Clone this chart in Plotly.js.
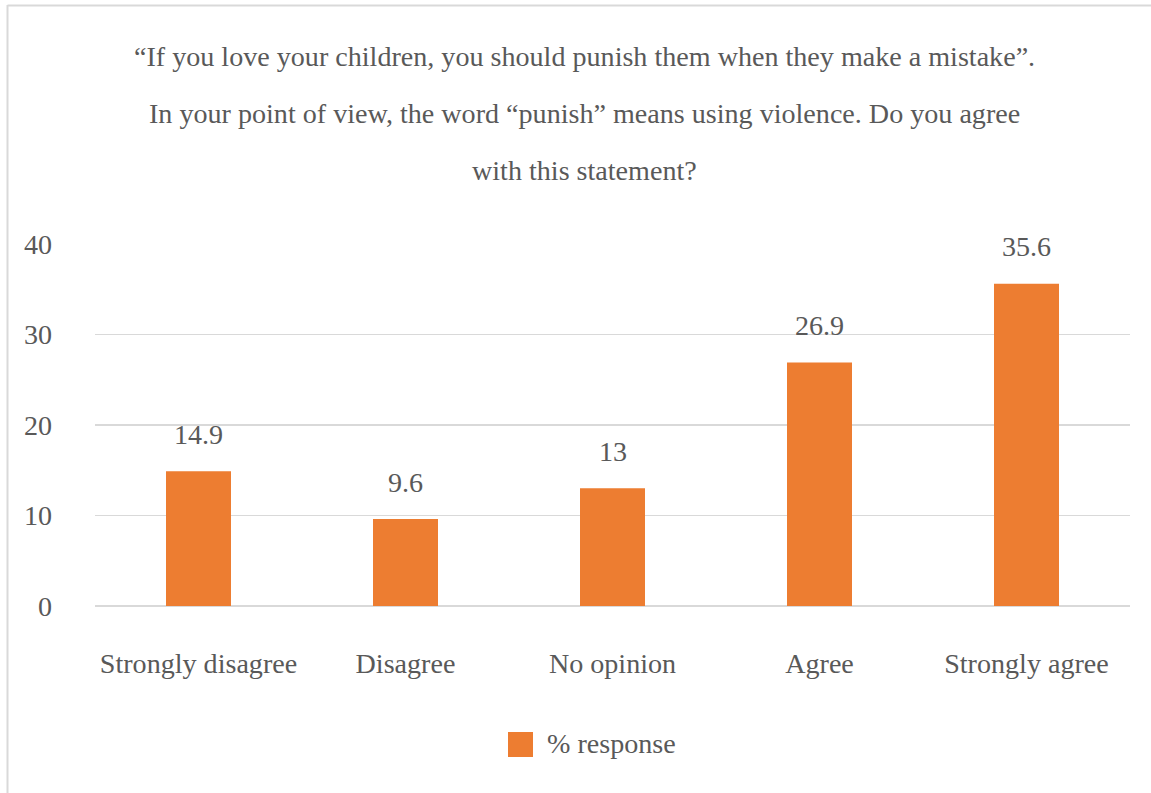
<!DOCTYPE html>
<html>
<head>
<meta charset="utf-8">
<script src="https://cdn.plot.ly/plotly-3.0.1.min.js"></script>
<style>html,body{margin:0;padding:0;background:#fff;}#chart{width:1151px;height:793px;}</style>
</head>
<body>
<div id="chart"></div>
<script>
const categories = ["Strongly disagree", "Disagree", "No opinion", "Agree", "Strongly agree"];
const values = [14.9, 9.6, 13, 26.9, 35.6];
const valueLabels = ["14.9", "9.6", "13", "26.9", "35.6"];
const seriesName = "% response";
const titleLines = [
  "\u201cIf you love your children, you should punish them when they make a mistake\u201d.",
  "In your point of view, the word \u201cpunish\u201d means using violence. Do you agree",
  "with this statement?"
];
const yTicks = [0, 10, 20, 30, 40];

const FONT = "'Liberation Serif', 'Times New Roman', serif";
const TXT = "#595959";
const FS = 28.1;

// pixel -> paper helpers (plot area: x 95..1130, y 244..606)
const L = 95, R = 1130, T = 244, B = 606;
const px = p => (p - L) / (R - L);
const py = p => (B - p) / (B - T);

const annotations = [];
titleLines.forEach((t, i) => {
  annotations.push({
    text: t, xref: "paper", yref: "paper", x: px(584), y: py([57, 114, 171][i]),
    xanchor: "center", yanchor: "middle", showarrow: false,
    font: {family: FONT, size: FS, color: TXT}
  });
});
categories.forEach((c, i) => {
  annotations.push({
    text: valueLabels[i], x: c, y: values[i], xref: "x", yref: "y",
    xanchor: "center", yanchor: "middle", yshift: 37, showarrow: false,
    font: {family: FONT, size: FS, color: TXT}
  });
});
annotations.push({
  text: seriesName, xref: "paper", yref: "paper", x: px(545), y: py(743),
  xanchor: "left", yanchor: "middle", showarrow: false,
  font: {family: FONT, size: FS, color: TXT}
});

const shapes = [
  {type: "rect", xref: "paper", yref: "paper", x0: px(508), x1: px(533), y0: py(757), y1: py(732),
   fillcolor: "#ED7D31", line: {width: 0}},
  {type: "line", xref: "paper", yref: "paper", x0: px(7.5), x1: px(7.5), y0: py(5), y1: py(800),
   line: {color: "#d9d9d9", width: 2}},
  {type: "line", xref: "paper", yref: "paper", x0: px(7.5), x1: px(1160), y0: py(5.5), y1: py(5.5),
   line: {color: "#d9d9d9", width: 2}}
];

const trace = {
  type: "bar", x: categories, y: values, name: seriesName,
  marker: {color: "#ED7D31"}, showlegend: false, hoverinfo: "skip"
};

const layout = {
  width: 1151, height: 793,
  margin: {l: L, r: 1151 - R, t: T, b: 793 - B, pad: 0},
  paper_bgcolor: "#ffffff", plot_bgcolor: "#ffffff",
  bargap: 0.686,
  showlegend: false,
  xaxis: {
    type: "category", showgrid: false, zeroline: false, showline: false, ticks: "",
    tickfont: {family: FONT, size: FS, color: TXT}, ticklabelstandoff: 38
  },
  yaxis: {
    range: [0, 40], tickvals: yTicks, ticktext: yTicks.map(String),
    showgrid: true, gridcolor: "#d9d9d9", gridwidth: 1.5, zeroline: true, zerolinecolor: "#d9d9d9", zerolinewidth: 1.5,
    showline: false, ticks: "", tickfont: {family: FONT, size: FS, color: TXT}, ticklabelstandoff: 42
  },
  annotations: annotations,
  shapes: shapes
};

Plotly.newPlot("chart", [trace], layout, {displayModeBar: false, staticPlot: true});
</script>
</body>
</html>
